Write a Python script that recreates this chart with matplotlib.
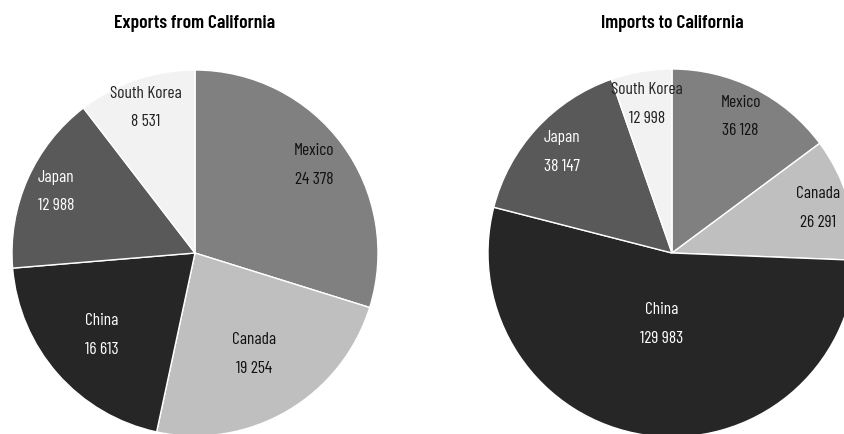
import numpy as np
import matplotlib
matplotlib.use('Agg')
import matplotlib.pyplot as plt

matplotlib.rcParams['font.family'] = ['Barlow Condensed', 'DejaVu Sans']

countries = ['Mexico', 'Canada', 'China', 'Japan', 'South Korea']
exports = [24378, 19254, 16613, 12988, 8531]
imports = [36128, 26291, 129983, 38147, 12998]

colors = ['#808080', '#bfbfbf', '#262626', '#595959', '#f2f2f2']
text_colors = ['#111111', '#111111', 'white', 'white', '#222222']

W, H = 845, 434
fig = plt.figure(figsize=(W / 100, H / 100), dpi=100)
ax = fig.add_axes([0, 0, 1, 1])


def draw_pie(values, cx, cy, radius, title, label_r):
    wedges, _ = ax.pie(values, colors=colors, startangle=90, counterclock=False,
                       center=(cx, cy), radius=radius,
                       wedgeprops=dict(edgecolor='white', linewidth=1.0))
    for w, name, val, tc, lr in zip(wedges, countries, values, text_colors, label_r):
        mid = np.deg2rad((w.theta1 + w.theta2) / 2.)
        x = cx + lr * radius * np.cos(mid)
        y = cy + lr * radius * np.sin(mid)
        txt = name + '\n' + '{:,}'.format(val).replace(',', ' ')
        ax.text(x, y, txt, ha='center', va='center', color=tc,
                fontsize=12.5, linespacing=2.15)
    ax.text(cx, H - 23, title, ha='center', va='center',
            fontsize=14, fontweight='semibold', color='black')


draw_pie(exports, 195, H - 253, 183, 'Exports from California',
         [0.81, 0.64, 0.68, 0.83, 0.84])
draw_pie(imports, 672, H - 253, 184, 'Imports to California',
         [0.83, 0.83, 0.39, 0.81, 0.82])

ax.set_xlim(0, W)
ax.set_ylim(0, H)
ax.set_aspect('auto')
ax.axis('off')

plt.savefig('out.png', dpi=100)
